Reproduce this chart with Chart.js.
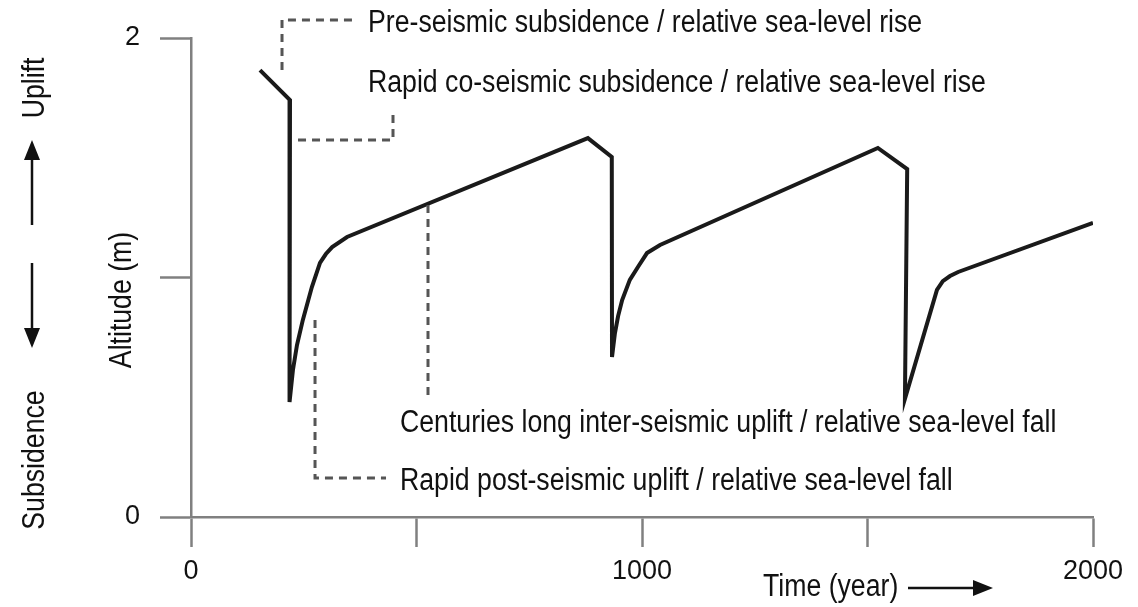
<!DOCTYPE html>
<html>
<head>
<meta charset="utf-8">
<script src="https://cdn.jsdelivr.net/npm/chart.js@4.4.1/dist/chart.umd.min.js"></script>
<style>
  html, body { margin: 0; padding: 0; background: #fff; }
  #wrap { width: 1138px; height: 607px; }
</style>
</head>
<body>
<div id="wrap"><canvas id="chart" width="1138" height="607"></canvas></div>
<script>
// time (year) and altitude (m) of the schematic seismic cycle curve
const years = [153, 219.5, 218.5, 226, 235, 248, 268, 286, 299, 313, 346, 880, 933, 933.5, 940, 947, 956, 973, 991, 1011, 1040, 1523, 1588, 1583, 1654, 1667, 1683, 1701, 2000];
const altitude = [1.866, 1.741, 0.48, 0.614, 0.718, 0.823, 0.96, 1.061, 1.098, 1.127, 1.169, 1.582, 1.503, 0.668, 0.768, 0.839, 0.906, 0.99, 1.044, 1.102, 1.136, 1.541, 1.453, 0.493, 0.948, 0.985, 1.006, 1.023, 1.228];

const xTicks = [0, 500, 1000, 1500, 2000];
const xLabels = [0, 1000, 2000];
const yLabels = [0, 2];

const notes = [
  'Pre-seismic subsidence / relative sea-level rise',
  'Rapid co-seismic subsidence / relative sea-level rise',
  'Centuries long inter-seismic uplift / relative sea-level fall',
  'Rapid post-seismic uplift / relative sea-level fall'
];

const FONT = '"Liberation Sans", Arial, sans-serif';
const AXIS = '#808080';
const NARROW = 0.86; // squeeze regular sans into a narrow face

// leader lines (in data units) and note anchors
const leaders = [
  [[201.8, 1.866], [201.8, 2.075], [359, 2.075]],
  [[237.3, 1.574], [447.9, 1.574], [447.9, 1.678]],
  [[525.5, 1.303], [525.5, 0.497]],
  [[275, 0.823], [275, 0.163], [432.4, 0.163]]
];
const noteAt = [[392.5, 2.025], [392.5, 1.775], [463.4, 0.355], [463.4, 0.113]];

function arrow(ctx, x1, y1, x2, y2) {
  const a = Math.atan2(y2 - y1, x2 - x1);
  const hl = 20, hw = 8;
  ctx.beginPath();
  ctx.moveTo(x1, y1);
  ctx.lineTo(x2 - Math.cos(a) * hl * 0.8, y2 - Math.sin(a) * hl * 0.8);
  ctx.stroke();
  ctx.beginPath();
  ctx.moveTo(x2, y2);
  ctx.lineTo(x2 - Math.cos(a) * hl - Math.sin(a) * hw, y2 - Math.sin(a) * hl + Math.cos(a) * hw);
  ctx.lineTo(x2 - Math.cos(a) * hl + Math.sin(a) * hw, y2 - Math.sin(a) * hl - Math.cos(a) * hw);
  ctx.closePath();
  ctx.fill();
}

function htext(ctx, txt, x, y) {
  ctx.save();
  ctx.translate(x, y);
  ctx.scale(NARROW, 1);
  ctx.fillText(txt, 0, 0);
  ctx.restore();
}

function vtext(ctx, txt, x, y) {
  ctx.save();
  ctx.translate(x, y);
  ctx.rotate(-Math.PI / 2);
  ctx.scale(NARROW, 1);
  ctx.textAlign = 'center';
  ctx.textBaseline = 'middle';
  ctx.fillText(txt, 0, 0);
  ctx.restore();
}

const annotations = {
  id: 'annotations',
  afterDraw(chart) {
    const ctx = chart.ctx;
    const xs = chart.scales.x, ys = chart.scales.y;
    const px = p => [xs.getPixelForValue(p[0]), ys.getPixelForValue(p[1])];

    ctx.save();
    // dashed leaders
    ctx.strokeStyle = '#555';
    ctx.lineWidth = 3;
    ctx.setLineDash([8, 6]);
    leaders.forEach(l => {
      ctx.beginPath();
      l.forEach((p, i) => {
        const [a, b] = px(p);
        if (i === 0) ctx.moveTo(a, b); else ctx.lineTo(a, b);
      });
      ctx.stroke();
    });
    ctx.setLineDash([]);

    // notes
    ctx.fillStyle = '#111';
    ctx.font = '31px ' + FONT;
    ctx.textAlign = 'left';
    ctx.textBaseline = 'alphabetic';
    notes.forEach((t, i) => {
      const [a, b] = px(noteAt[i]);
      htext(ctx, t, a, b);
    });

    // left side: uplift / subsidence and y title
    vtext(ctx, 'Uplift', 35, 88);
    vtext(ctx, 'Subsidence', 35, 460);
    vtext(ctx, 'Altitude (m)', 122, 300);
    ctx.strokeStyle = '#111';
    ctx.lineWidth = 2.5;
    arrow(ctx, 32, 225, 32, 140);
    arrow(ctx, 32, 263, 32, 348);

    // bottom: x title with arrow
    ctx.textAlign = 'left';
    ctx.textBaseline = 'middle';
    htext(ctx, 'Time (year)', 763, 587);
    arrow(ctx, 908, 588, 993, 588);
    ctx.restore();
  }
};

new Chart(document.getElementById('chart'), {
  type: 'line',
  data: {
    datasets: [{
      data: years.map((x, i) => ({ x: x, y: altitude[i] })),
      borderColor: '#1a1a1a',
      borderWidth: 4,
      pointRadius: 0,
      tension: 0,
      fill: false
    }]
  },
  options: {
    responsive: false,
    animation: false,
    layout: { padding: { top: 38, right: 45, left: 0, bottom: 0 } },
    plugins: { legend: { display: false }, tooltip: { enabled: false } },
    scales: {
      x: {
        type: 'linear',
        min: 0,
        max: 2000,
        afterBuildTicks: s => { s.ticks = xTicks.map(v => ({ value: v })); },
        afterFit: s => { s.height = 90; },
        ticks: {
          callback: v => xLabels.includes(v) ? String(v) : '',
          font: { family: FONT, size: 27 },
          color: '#111',
          padding: 8,
          maxRotation: 0,
          autoSkip: false
        },
        grid: { drawOnChartArea: false, drawTicks: true, tickLength: 30, tickColor: AXIS, tickWidth: 2.5 },
        border: { display: true, color: AXIS, width: 2.5 }
      },
      y: {
        min: 0,
        max: 2,
        afterBuildTicks: s => { s.ticks = [0, 1, 2].map(v => ({ value: v })); },
        afterFit: s => { s.width = 191; },
        ticks: {
          callback: v => yLabels.includes(v) ? String(v) : '',
          font: { family: FONT, size: 27 },
          color: '#111',
          padding: 20
        },
        grid: { drawOnChartArea: false, drawTicks: true, tickLength: 31, tickColor: AXIS, tickWidth: 2.5 },
        border: { display: true, color: AXIS, width: 2.5 }
      }
    }
  },
  plugins: [annotations]
});
</script>
</body>
</html>
